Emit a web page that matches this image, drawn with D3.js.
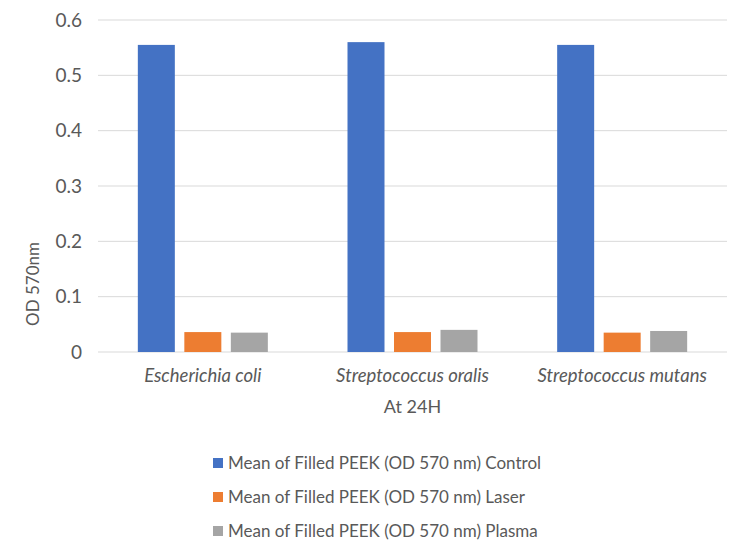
<!DOCTYPE html>
<html>
<head>
<meta charset="utf-8">
<script src="https://cdn.jsdelivr.net/npm/d3@7"></script>
<style>
  body { margin: 0; background: #fff; }
  text { font-family: Lato, "Open Sans", sans-serif; fill: #595959; }
</style>
</head>
<body>
<div id="chart"></div>
<script>
// values
const species = ["Escherichia coli", "Streptococcus oralis", "Streptococcus mutans"];
const seriesNames = [
  "Mean of Filled PEEK (OD 570 nm) Control",
  "Mean of Filled PEEK (OD 570 nm) Laser",
  "Mean of Filled PEEK (OD 570 nm) Plasma"
];
const control = [0.555, 0.560, 0.555];
const laser = [0.036, 0.036, 0.035];
const plasma = [0.035, 0.040, 0.038];
const yTicks = [0, 0.1, 0.2, 0.3, 0.4, 0.5, 0.6];
const colors = ["#4472C4", "#ED7D31", "#A5A5A5"];

const W = 750, H = 549;
const margin = {top: 20, right: 23, bottom: 197, left: 98};
const width = W - margin.left - margin.right,
      height = H - margin.top - margin.bottom;

const svg = d3.select("#chart").append("svg")
  .attr("width", W).attr("height", H);
const g = svg.append("g")
  .attr("transform", `translate(${margin.left},${margin.top})`);

const x = d3.scaleBand().domain(species).range([0, width]).padding(0);
const y = d3.scaleLinear().domain([0, 0.6]).range([height, 0]);

// gridlines
g.selectAll(".grid").data(yTicks).join("line")
  .attr("x1", 0).attr("x2", width)
  .attr("y1", d => y(d)).attr("y2", d => y(d))
  .attr("stroke", "#D9D9D9").attr("stroke-width", 1);

// y tick labels
g.selectAll(".ytick").data(yTicks).join("text")
  .attr("x", -16).attr("y", d => y(d))
  .attr("dy", "0.35em")
  .attr("text-anchor", "end")
  .style("font-size", "19px")
  .text(d => d === 0 ? "0" : d3.format(".1f")(d));

// bars
const rows = species.map((s, i) => ({name: s, vals: [control[i], laser[i], plasma[i]]}));
const barW = 37, gap = 9.5;
const groups = g.selectAll(".grp").data(rows).join("g")
  .attr("transform", d => `translate(${x(d.name) + x.bandwidth() / 2},0)`);
groups.selectAll("rect").data(d => d.vals).join("rect")
  .attr("x", (d, i) => (i - 1) * (barW + gap) - barW / 2)
  .attr("y", d => y(d))
  .attr("width", barW)
  .attr("height", d => height - y(d))
  .attr("fill", (d, i) => colors[i]);

// category labels
g.selectAll(".cat").data(species).join("text")
  .attr("x", d => x(d) + x.bandwidth() / 2)
  .attr("y", height + 30)
  .attr("text-anchor", "middle")
  .style("font-size", "18.5px")
  .style("font-style", "italic")
  .text(d => d);

// axis titles
g.append("text")
  .attr("x", width / 2).attr("y", height + 61)
  .attr("text-anchor", "middle")
  .style("font-size", "18px")
  .text("At 24H");

svg.append("text")
  .attr("transform", "translate(39,284) rotate(-90)")
  .attr("text-anchor", "middle")
  .style("font-size", "17px")
  .text("OD 570nm");

// legend
const legend = svg.append("g").attr("transform", "translate(213,463)");
const li = legend.selectAll(".li").data(seriesNames).join("g")
  .attr("transform", (d, i) => `translate(0,${i * 34})`);
li.append("rect")
  .attr("x", 0).attr("y", -5).attr("width", 10).attr("height", 10)
  .attr("fill", (d, i) => colors[i]);
li.append("text")
  .attr("x", 15).attr("y", 0).attr("dy", "0.35em")
  .style("font-size", "17px")
  .text(d => d);
</script>
</body>
</html>
